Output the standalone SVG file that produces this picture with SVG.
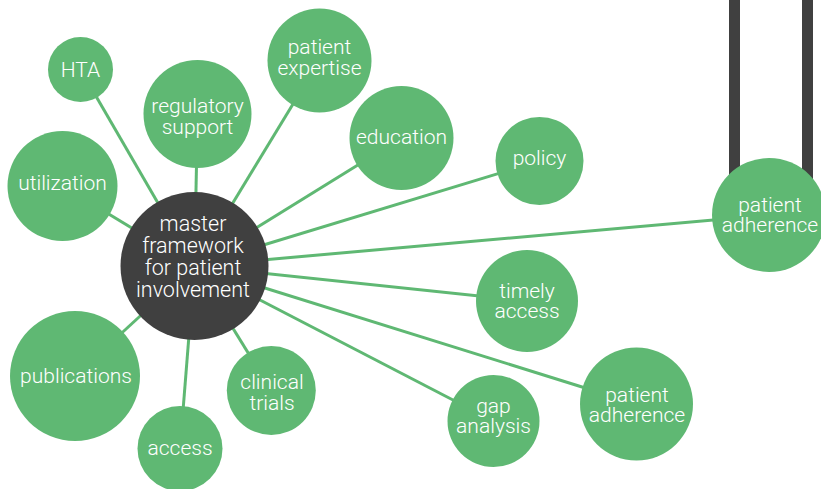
<svg xmlns="http://www.w3.org/2000/svg" width="821" height="489" viewBox="0 0 821 489">
<style>
.c{fill:#5fb873}
.hub{fill:#404040}
.bar{fill:#404040}
.e{stroke:#5fb873;stroke-width:3;fill:none}
text{font-family:Roboto,"Liberation Sans",sans-serif;font-weight:300;font-size:21px;fill:#ffffff;text-anchor:middle}
.ht{font-size:21.5px}
</style>
<rect width="821" height="489" fill="#ffffff"/>
<g id="bars">
<rect class="bar" x="729" y="0" width="11" height="180"/>
<rect class="bar" x="802" y="0" width="11" height="180"/>
</g>
<g id="connectors">
<line class="e" x1="194.5" y1="266" x2="80.5" y2="69.5"/>
<line class="e" x1="194.5" y1="266" x2="197.5" y2="114"/>
<line class="e" x1="194.5" y1="266" x2="319.5" y2="60.5"/>
<line class="e" x1="194.5" y1="266" x2="401.5" y2="138"/>
<line class="e" x1="194.5" y1="266" x2="539.5" y2="161"/>
<line class="e" x1="194.5" y1="266" x2="769" y2="215"/>
<line class="e" x1="194.5" y1="266" x2="527" y2="301"/>
<line class="e" x1="194.5" y1="266" x2="636.5" y2="404"/>
<line class="e" x1="194.5" y1="266" x2="493.5" y2="421"/>
<line class="e" x1="194.5" y1="266" x2="271.3" y2="390.5"/>
<line class="e" x1="194.5" y1="266" x2="180" y2="448.5"/>
<line class="e" x1="194.5" y1="266" x2="75" y2="376"/>
<line class="e" x1="194.5" y1="266" x2="62.5" y2="186"/>
</g>
<g id="hta"><circle class="c" cx="80.5" cy="69.5" r="32.5"/><text x="80.5" y="76.5">HTA</text></g>
<g id="regulatory-support"><circle class="c" cx="197.5" cy="114" r="54"/><text x="197.5" y="112.5">regulatory</text><text x="197.5" y="134">support</text></g>
<g id="patient-expertise"><circle class="c" cx="319.5" cy="60.5" r="52"/><text x="319.5" y="54">patient</text><text x="319.5" y="75">expertise</text></g>
<g id="education"><circle class="c" cx="401.5" cy="138" r="52"/><text x="401.5" y="144">education</text></g>
<g id="policy"><circle class="c" cx="539.5" cy="161" r="44"/><text x="539.5" y="165">policy</text></g>
<g id="patient-adherence-right"><circle class="c" cx="769" cy="215" r="57"/><text x="770" y="211.5">patient</text><text x="770" y="232">adherence</text></g>
<g id="utilization"><circle class="c" cx="62.5" cy="186" r="55"/><text x="62.5" y="190">utilization</text></g>
<g id="timely-access"><circle class="c" cx="527" cy="301" r="51"/><text x="527" y="298">timely</text><text x="527" y="318">access</text></g>
<g id="patient-adherence"><circle class="c" cx="636.5" cy="404" r="56.5"/><text x="637" y="401.5">patient</text><text x="637" y="421.5">adherence</text></g>
<g id="gap-analysis"><circle class="c" cx="493.5" cy="421" r="46"/><text x="493.5" y="412.5">gap</text><text x="493.5" y="433">analysis</text></g>
<g id="clinical-trials"><circle class="c" cx="271.3" cy="390.5" r="44.5"/><text x="272" y="388.5">clinical</text><text x="272" y="410">trials</text></g>
<g id="access"><circle class="c" cx="180" cy="448.5" r="42.5"/><text x="180" y="455">access</text></g>
<g id="publications"><circle class="c" cx="75" cy="376" r="65"/><text x="76" y="382.5">publications</text></g>
<g id="hub"><circle class="hub" cx="194.5" cy="266" r="74"/>
<text class="ht" x="193" y="230.5">master</text>
<text class="ht" x="193" y="253">framework</text>
<text class="ht" x="193" y="275">for patient</text>
<text class="ht" x="193" y="297">involvement</text>
</g>
</svg>
